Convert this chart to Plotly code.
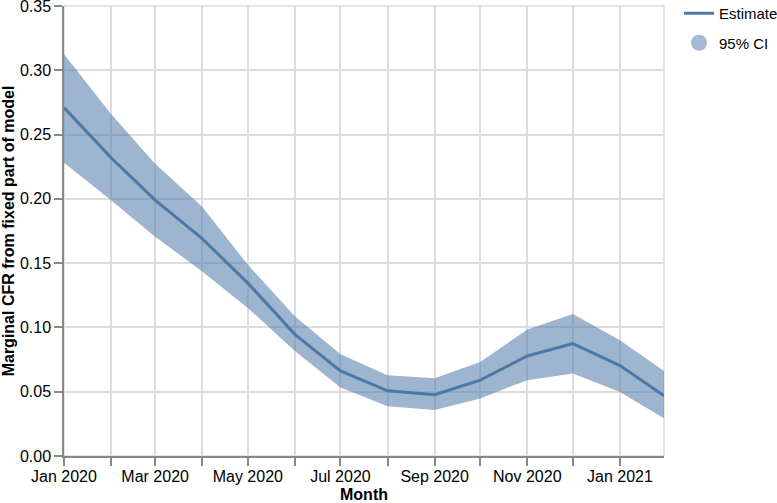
import plotly.graph_objects as go

months = ["2020-01-01", "2020-02-01", "2020-03-01", "2020-04-01", "2020-05-01",
          "2020-06-01", "2020-07-01", "2020-08-01", "2020-09-01", "2020-10-01",
          "2020-11-01", "2020-12-01", "2021-01-01", "2021-01-30"]
estimate = [0.271, 0.232, 0.199, 0.169, 0.1345, 0.0946, 0.0662, 0.0507,
            0.0476, 0.059, 0.0778, 0.0874, 0.0703, 0.0469]
lower = [0.228, 0.199, 0.1706, 0.1435, 0.1152, 0.0817, 0.0533, 0.0387,
         0.0358, 0.0448, 0.059, 0.0642, 0.0498, 0.0294]
upper = [0.3124, 0.266, 0.2273, 0.1938, 0.1487, 0.1087, 0.0791, 0.0629,
         0.0605, 0.0732, 0.0984, 0.1105, 0.0900, 0.0662]

tick_vals = months[:13]
tick_text = ["Jan 2020", "", "Mar 2020", "", "May 2020", "", "Jul 2020", "",
             "Sep 2020", "", "Nov 2020", "", "Jan 2021"]
y_ticks = [0, 0.05, 0.10, 0.15, 0.20, 0.25, 0.30, 0.35]

LINE = "#4c78a8"
BAND = "rgba(76,120,168,0.55)"
FONT = "Liberation Sans, Arial, Helvetica, sans-serif"

fig = go.Figure()
fig.add_trace(go.Scatter(x=months, y=lower, mode="lines", line=dict(width=0, color=BAND),
                         showlegend=False, hoverinfo="skip"))
fig.add_trace(go.Scatter(x=months, y=upper, mode="lines", line=dict(width=0, color=BAND),
                         fill="tonexty", fillcolor=BAND, showlegend=False, name="95% CI"))
fig.add_trace(go.Scatter(x=months, y=estimate, mode="lines", name="Estimate",
                         legendgroup="a", line=dict(color=LINE, width=3)))
# legend-only entry for the band, shown as a circle
fig.add_trace(go.Scatter(x=[None], y=[None], mode="markers", name="95% CI", legendgroup="b",
                         marker=dict(symbol="circle", size=16, color="rgba(76,120,168,0.5)")))

fig.update_layout(
    width=777, height=503,
    margin=dict(l=64, r=113, t=6, b=47, autoexpand=False),
    paper_bgcolor="white", plot_bgcolor="white",
    font=dict(family=FONT, size=16, color="black"),
    showlegend=True,
    legend=dict(x=1.025, y=1.02, xanchor="left", yanchor="top", traceorder="grouped",
                font=dict(size=15, family=FONT), itemwidth=30,
                tracegroupgap=7, bgcolor="rgba(0,0,0,0)"),
    shapes=[dict(type="rect", xref="paper", yref="paper", x0=0, x1=1, y0=0, y1=1,
                 line=dict(color="#dddddd", width=1.5), layer="below")],
)
fig.update_xaxes(
    range=[months[0], months[-1]], type="date", automargin=False,
    tickvals=tick_vals, ticktext=tick_text,
    showgrid=True, gridcolor="#dddddd", gridwidth=1.5,
    showline=True, linecolor="#888888", linewidth=1.5,
    ticks="outside", ticklen=8, tickwidth=1.5, tickcolor="#888888",
    tickfont=dict(size=16), zeroline=False, ticklabelstandoff=-3,
    ticklabeloverflow="allow",
    title=dict(text="<b>Month</b>", font=dict(size=16), standoff=10),
)
fig.update_yaxes(
    range=[0, 0.35], tickvals=y_ticks, tickformat=".2f", automargin=False,
    showgrid=True, gridcolor="#dddddd", gridwidth=1.5,
    showline=True, linecolor="#888888", linewidth=1.5,
    ticks="outside", ticklen=8, tickwidth=1.5, tickcolor="#888888",
    tickfont=dict(size=16), zeroline=False, ticklabeloverflow="allow",
    title=dict(text="<b>Marginal CFR from fixed part of model</b>", font=dict(size=16), standoff=5),
)

fig.write_html("out.html", config={"displayModeBar": False},
               post_script="document.body.style.margin='0';")
